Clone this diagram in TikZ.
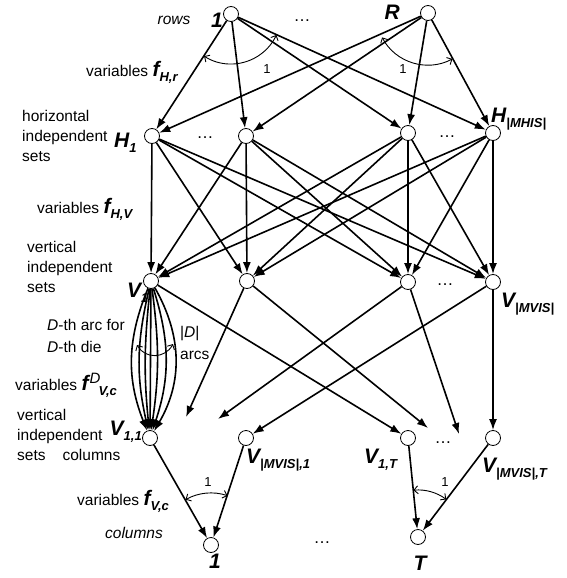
\documentclass[tikz,border=0pt]{standalone}
\usepackage{fontspec}
\setmainfont{Liberation Sans}
\usetikzlibrary{arrows.meta,calc}

\newcommand{\grande}[1]{{\fontsize{21}{21}\selectfont\bfseries\itshape #1}}
\newcommand{\subi}[1]{\raisebox{-5pt}{\fontsize{13}{13}\selectfont\bfseries\itshape #1}}

\begin{document}
\begin{tikzpicture}[
        x=1pt, y=-1pt,
        vert/.style={
            circle,
            draw=black,
            fill=white,
            thick,
            minimum size=15pt,
            inner sep=0pt
        },
        texto/.style={inner sep=0pt, align=left, font=\fontsize{15.5}{20}\selectfont},
        cursiva/.style={inner sep=0pt, font=\fontsize{15.5}{20}\selectfont\itshape},
        puntos/.style={inner sep=0pt, font=\fontsize{17}{17}\selectfont},
        uno/.style={inner sep=0pt, font=\fontsize{13}{13}\selectfont},
        arista/.style={line width=1.6pt, -{Latex[length=11pt,width=8pt]}},
        angulo/.style={line width=0.9pt, {Straight Barb[length=4pt]}-{Straight Barb[length=4pt]}}
    ]
    \useasboundingbox (0,0) rectangle (566,578);

    % Filas
    \node[vert] (r1) at (231,14) {};
    \node[vert] (rR) at (428,13) {};

    % Conjuntos horizontales
    \node[vert] (h1) at (152,136) {};
    \node[vert] (h2) at (246,136) {};
    \node[vert] (h3) at (408,133) {};
    \node[vert] (h4) at (493,133) {};

    % Conjuntos verticales
    \node[vert] (v1) at (151,281) {};
    \node[vert] (v2) at (247,281) {};
    \node[vert] (v3) at (408,282) {};
    \node[vert] (v4) at (493,282) {};

    % Conjuntos verticales por columnas
    \node[vert] (c11) at (150,438) {};
    \node[vert] (cm1) at (246,438) {};
    \node[vert] (c1t) at (408,438) {};
    \node[vert] (cmt) at (493,438) {};

    % Columnas
    \node[vert] (k1) at (211,545) {};
    \node[vert] (kT) at (418,537) {};

    % Extremos sueltos
    \coordinate (e1) at (186,417);
    \coordinate (e2) at (218,419);
    \coordinate (e3) at (428,428);
    \coordinate (e4) at (459,434);

    % Aristas
    \foreach \a in {r1,rR}
        \foreach \b in {h1,h2,h3,h4}
            \draw[arista] (\a) -- (\b);
    \foreach \a in {h1,h2,h3,h4}
        \foreach \b in {v1,v2,v3,v4}
            \draw[arista] (\a) -- (\b);
    \foreach \g in {-22,-13,-6,0,8,18,30}
        \draw[arista] (v1) to[bend left=\g] (c11);
    \draw[arista] (v1) -- (c1t);
    \draw[arista] (v2) -- (e1);
    \draw[arista] (v2) -- (e3);
    \draw[arista] (v3) -- (e2);
    \draw[arista] (v3) -- (e4);
    \draw[arista] (v4) -- (cm1);
    \draw[arista] (v4) -- (cmt);
    \draw[arista] (c11) -- (k1);
    \draw[arista] (cm1) -- (k1);
    \draw[arista] (c1t) -- (kT);
    \draw[arista] (cmt) -- (kT);

    % Arcos de suma
    \draw[angulo] ($(r1)+(122.6:50)$) arc[start angle=122.6, end angle=24.8, radius=50];
    \draw[angulo] ($(rR)+(152:52)$) arc[start angle=152, end angle=62, radius=52];
    \draw[angulo] ($(k1)+(-119.3:52)$) arc[start angle=-119.3, end angle=-71.4, radius=52];
    \draw[angulo] ($(kT)+(-95.7:47)$) arc[start angle=-95.7, end angle=-53.1, radius=47];
    \draw[angulo] (137,345) .. controls (145,359) and (165,359) .. (173,344);
    \node[uno] (u1) at (267,69) {1};
    \node[uno] (u2) at (403,69) {1};
    \node[uno] (u3) at (208,482) {1};
    \node[uno] (u4) at (445,482) {1};

    % Etiquetas de vertices
    \node[inner sep=0pt, anchor=base east] (l1) at (223,28) {\grande{1}};
    \node[inner sep=0pt, anchor=base east] (lR) at (400,20) {\grande{R}};
    \node[inner sep=0pt, anchor=base west] (lh1) at (114,147) {\grande{H}\subi{1}};
    \node[inner sep=0pt, anchor=base west] (lh4) at (491,122) {\grande{H}\subi{|MHIS|}};
    \node[inner sep=0pt, anchor=base west] (lv1) at (127,297) {\grande{V}\subi{1}};
    \node[inner sep=0pt, anchor=base west] (lv4) at (501,307) {\grande{V}\subi{|MVIS|}};
    \node[inner sep=0pt, anchor=base east] (lc11) at (142,435) {\grande{V}\subi{1,1}};
    \node[inner sep=0pt, anchor=base west] (lcm1) at (246,463) {\grande{V}\subi{|MVIS|,1}};
    \node[inner sep=0pt, anchor=base west] (lc1t) at (364,463) {\grande{V}\subi{1,T}};
    \node[inner sep=0pt, anchor=base west] (lcmt) at (482,472) {\grande{V}\subi{|MVIS|,T}};
    \node[inner sep=0pt, anchor=base] (lk1) at (215,568) {\grande{1}};
    \node[inner sep=0pt, anchor=base] (lkT) at (420,570) {\grande{T}};

    % Puntos suspensivos
    \node[puntos] (p1) at (302,21) {…};
    \node[puntos] (p2) at (205,138) {…};
    \node[puntos] (p3) at (447,137) {…};
    \node[puntos] (p4) at (445,285) {…};
    \node[puntos] (p5) at (443,443) {…};
    \node[puntos] (p6) at (322,543) {…};

    % Textos
    \node[cursiva] (trows) at (174,20) {rows};
    \node[texto, anchor=base west] (tfhr) at (86,77) {variables \grande{f}\subi{H,r}};
    \node[texto, anchor=north west] (thor) at (22,110) {horizontal\\independent\\sets};
    \node[texto, anchor=base west] (tfhv) at (37,213) {variables \grande{f}\subi{H,V}};
    \node[texto, anchor=north west] (tver) at (27,241) {vertical\\independent\\sets};
    \node[texto, anchor=north west, font=\fontsize{15.5}{22}\selectfont] (tarc) at (47,319) {\textit{D}-th arc for\\\textit{D}-th die};
    \node[texto, anchor=north west, font=\fontsize{15.5}{22}\selectfont] (tdd) at (180,326) {|\textit{D}|\\arcs};
    \node[texto, anchor=base west] (tfd) at (15,390) {variables \grande{f}\kern1pt\rlap{\raisebox{7pt}{\fontsize{15}{15}\selectfont\itshape D}}\kern9pt\subi{V,c}};
    \node[texto, anchor=north west] (tvc) at (17,409) {vertical\\independent\\sets\hspace{17pt}columns};
    \node[texto, anchor=base west] (tfvc) at (77,505) {variables \grande{f}\subi{V,c}};
    \node[cursiva] (tcol) at (134,533) {columns};

\end{tikzpicture}
\end{document}
